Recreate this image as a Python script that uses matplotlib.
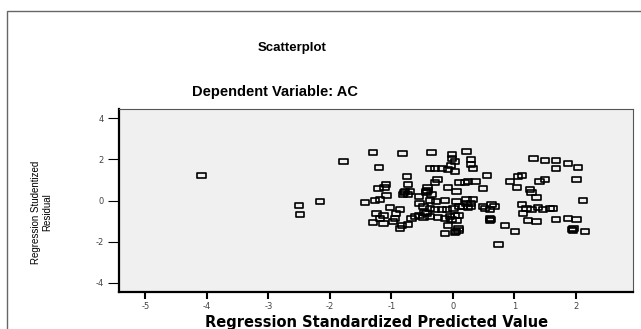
import numpy as np
import matplotlib
matplotlib.use("Agg")
import matplotlib.pyplot as plt
from matplotlib.patches import Rectangle
from matplotlib.path import Path

# regression standardized predicted value (x) and studentized residual (y)
pred = [-4.09, -2.50, -2.49, -2.16,
        -1.30, -0.82, -0.35, 0.22, -0.01, -0.01, 0.03, 0.30, 0.30, 0.33,
        -1.78, -1.20, -0.37, -0.29, -0.18, -0.08, 0.04, -0.03,
        1.31, 1.50, 1.68, 1.87, 2.04, 1.68,
        -0.75, -0.25, -0.29, 0.11, 0.20, 0.25, 0.37, 0.55, 0.49,
        -1.09, -1.11, -1.21, -0.73, -0.41, -0.41, -0.08, 0.06,
        0.93, 1.06, 1.12, 1.04, 1.25, 1.28, 1.36, 1.41, 1.50, 2.01,
        -0.78, -0.70, -0.81, -0.73, -0.43, -0.35, -0.55,
        -1.08, -1.19, -1.27, -1.43,
        -1.02, -0.86, -0.92, -1.24, -1.13, -1.19, -1.30, -1.13, -0.94, -0.97,
        -0.83, -0.86, -0.73,
        -0.54, -0.48, -0.37, -0.27, -0.13, 0.06, 0.22, 0.33, 0.30, 0.17,
        0.11, 0.01, -0.10, -0.18, -0.29, -0.37, -0.43, -0.54, -0.62, -0.67,
        -0.48, -0.37, -0.24, -0.13, -0.05, 0.03, 0.09, -0.02, 0.06, -0.08,
        0.09, 0.09, -0.13, 0.03,
        0.49, 0.63, 0.68, 0.60, 0.60, 0.60, 0.52,
        1.12, 1.20, 1.28, 1.39, 1.47, 1.58, 1.63, 1.14, 1.22, 1.36,
        1.68, 1.87, 2.01, 2.12,
        0.85, 1.01, 0.74, 1.96, 1.95, 2.15,
        0.25, 0.30, 0.22,
        -0.79, -0.44, -0.46, 0.05, 0.62, 1.94]
resid = [1.21, -0.25, -0.66, -0.06,
         2.35, 2.30, 2.33, 2.38, 2.25, 2.06, 1.89, 2.01, 1.76, 1.57,
         1.88, 1.62, 1.57, 1.57, 1.57, 1.49, 1.41, 1.73,
         2.04, 1.93, 1.94, 1.81, 1.62, 1.57,
         1.16, 1.00, 0.87, 0.87, 0.89, 0.92, 0.92, 1.20, 0.59,
         0.79, 0.64, 0.59, 0.76, 0.64, 0.51, 0.64, 0.43,
         0.92, 1.16, 1.24, 0.64, 0.54, 0.38, 0.15, 0.92, 1.00, 1.03,
         0.43, 0.43, 0.30, 0.27, 0.38, 0.30, 0.19,
         0.22, 0.06, 0.02, -0.11,
         -0.33, -0.46, -0.63, -0.63, -0.71, -0.90, -1.06, -1.11, -0.87, -1.03,
         -1.20, -1.36, -1.15,
         -0.14, -0.30, 0.02, -0.06, -0.01, -0.06, 0.06, 0.07, -0.14, -0.30,
         -0.27, -0.38, -0.43, -0.46, -0.46, -0.38, -0.63, -0.71, -0.79, -0.87,
         -0.84, -0.79, -0.84, -0.87, -0.79, -0.71, -0.71, -0.95, -0.98, -1.20,
         -1.36, -1.44, -1.60, -1.57,
         -0.27, -0.19, -0.30, -0.46, -0.90, -0.98, -0.38,
         -0.19, -0.38, -0.43, -0.33, -0.46, -0.41, -0.38, -0.63, -0.98, -1.03,
         -0.92, -0.90, -0.95, 0.02,
         -1.24, -1.49, -2.14, -1.36, -1.44, -1.49,
         -0.33, -0.27, -0.14,
         0.40, 0.45, -0.60, -1.50, -0.94, -1.40]

xticks = [-5, -4, -3, -2, -1, 0, 1, 2]
yticks = [-4, -2, 0, 2, 4]

W, H = 641, 329
fig = plt.figure(figsize=(W / 100, H / 100), dpi=100)
fig.patch.set_facecolor("white")

# outer chart frame (only top and left edges visible)
fig.patches.append(Rectangle((7 / W, -0.1), 1.2, (H - 11) / H + 0.1,
                             transform=fig.transFigure, fill=False,
                             edgecolor="#666666", lw=1.0))

ax = fig.add_axes([119 / W, (H - 292) / H, (633 - 119) / W, (292 - 109) / H])
ax.set_facecolor("#f0f0f0")

box = Path([(-1, -0.6), (1, -0.6), (1, 0.6), (-1, 0.6), (-1, -0.6)],
           [Path.MOVETO, Path.LINETO, Path.LINETO, Path.LINETO, Path.CLOSEPOLY])
ax.scatter(pred, resid, marker=box, s=36, facecolors="none",
           edgecolors="black", linewidths=1.2, zorder=3)

ax.set_xlim(-5.43, 2.93)
ax.set_ylim(-4.46, 4.46)
ax.set_xticks(xticks)
ax.set_yticks(yticks)
ax.set_xticklabels([str(t) for t in xticks])
ax.set_yticklabels([str(t) for t in yticks])
ax.tick_params(axis="x", length=5, width=1.5, pad=2, labelsize=6,
               labelcolor="#444444")
ax.tick_params(axis="y", length=8, width=0.8, pad=3, labelsize=6,
               labelcolor="#444444")

for s in ["left", "bottom"]:
    ax.spines[s].set_linewidth(1.6)
    ax.spines[s].set_color("black")
for s in ["top", "right"]:
    ax.spines[s].set_linewidth(0.8)
    ax.spines[s].set_color("#555555")

fig.text(292 / W, 1 - 48 / H, "Scatterplot", ha="center", va="center",
         fontsize=9.5, fontweight="bold", family="Liberation Sans")
fig.text(275 / W, 1 - 92 / H, "Dependent Variable: AC", ha="center",
         va="center", fontsize=10.5, fontweight="bold", family="Liberation Sans")
fig.text(377 / W, 1 - 322 / H, "Regression Standardized Predicted Value",
         ha="center", va="center", fontsize=10.5, fontweight="bold",
         family="DejaVu Sans")
fig.text(42 / W, 1 - 212 / H, "Regression Studentized\nResidual",
         ha="center", va="center", rotation=90, fontsize=7,
         linespacing=1.15, family="Liberation Sans")

fig.savefig("out.png", dpi=100)
